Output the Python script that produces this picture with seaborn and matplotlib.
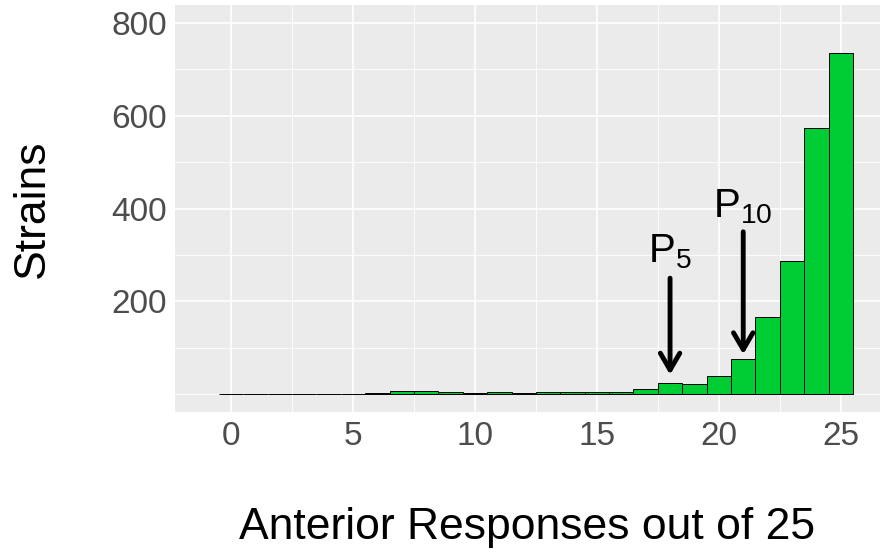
import matplotlib
matplotlib.use("Agg")
import matplotlib.pyplot as plt
import seaborn as sns
import pandas as pd

# Data
responses = list(range(0, 26))
strains = [0, 0, 1, 1, 1, 0, 2, 7, 7, 4, 2, 4, 2, 4, 4, 4, 5, 11, 24, 21, 39, 75, 166, 287, 574, 736]
y_ticks = [200, 400, 600, 800]
x_ticks = [0, 5, 10, 15, 20, 25]
arrow_labels = ["P$_{5}$", "P$_{10}$"]
arrow_x = [18, 21]
arrow_top = [250, 350]
arrow_tip = [42, 86]
label_y = [308, 405]

df = pd.DataFrame({"responses": responses, "strains": strains})

sns.set_theme(style="darkgrid", rc={
    "axes.facecolor": "#EBEBEB",
    "grid.color": "white",
    "axes.edgecolor": "#EBEBEB",
})
plt.rcParams["font.family"] = ["Liberation Sans", "DejaVu Sans"]
plt.rcParams["mathtext.fontset"] = "custom"
plt.rcParams["mathtext.rm"] = "Liberation Sans"
plt.rcParams["mathtext.it"] = "Liberation Sans"
plt.rcParams["mathtext.default"] = "regular"

fig = plt.figure(figsize=(8.86, 5.54), dpi=100)
ax = fig.add_axes([0.1975, 0.256, 0.7955, 0.735])

sns.histplot(data=df, x="responses", weights="strains", discrete=True,
             color="#00CC33", alpha=1, edgecolor="black", linewidth=0.7, ax=ax)

ax.set_xlim(-2.3, 26.6)
ax.set_ylim(-38.8, 838.8)
ax.set_xticks(x_ticks)
ax.set_yticks(y_ticks)
ax.set_xticks([2.5, 7.5, 12.5, 17.5, 22.5], minor=True)
ax.set_yticks([0, 100, 300, 500, 700], minor=True)
ax.grid(which="major", color="white", linewidth=1.2)
ax.grid(which="minor", color="white", linewidth=0.6)
ax.set_axisbelow(True)
for s in ax.spines.values():
    s.set_visible(False)

ax.tick_params(axis="both", which="major", labelsize=24, labelcolor="#4D4D4D",
               color="#333333", length=3, width=0.8, direction="out", pad=3)
ax.tick_params(axis="both", which="minor", length=0)
ax.set_xlabel("Anterior Responses out of 25", fontsize=32, color="black", labelpad=40)
ax.set_ylabel("Strains", fontsize=32, color="black", labelpad=42)

for lab, x, yt, yp, ly in zip(arrow_labels, arrow_x, arrow_top, arrow_tip, label_y):
    ax.annotate("", xy=(x, yp), xytext=(x, yt),
                arrowprops=dict(arrowstyle="->,head_length=0.6,head_width=0.35",
                                color="black", lw=3.5, mutation_scale=20,
                                shrinkA=0, shrinkB=0))
    ax.text(x, ly, lab, fontsize=29, ha="center", va="center", color="black")

fig.savefig("out.png", dpi=100)
